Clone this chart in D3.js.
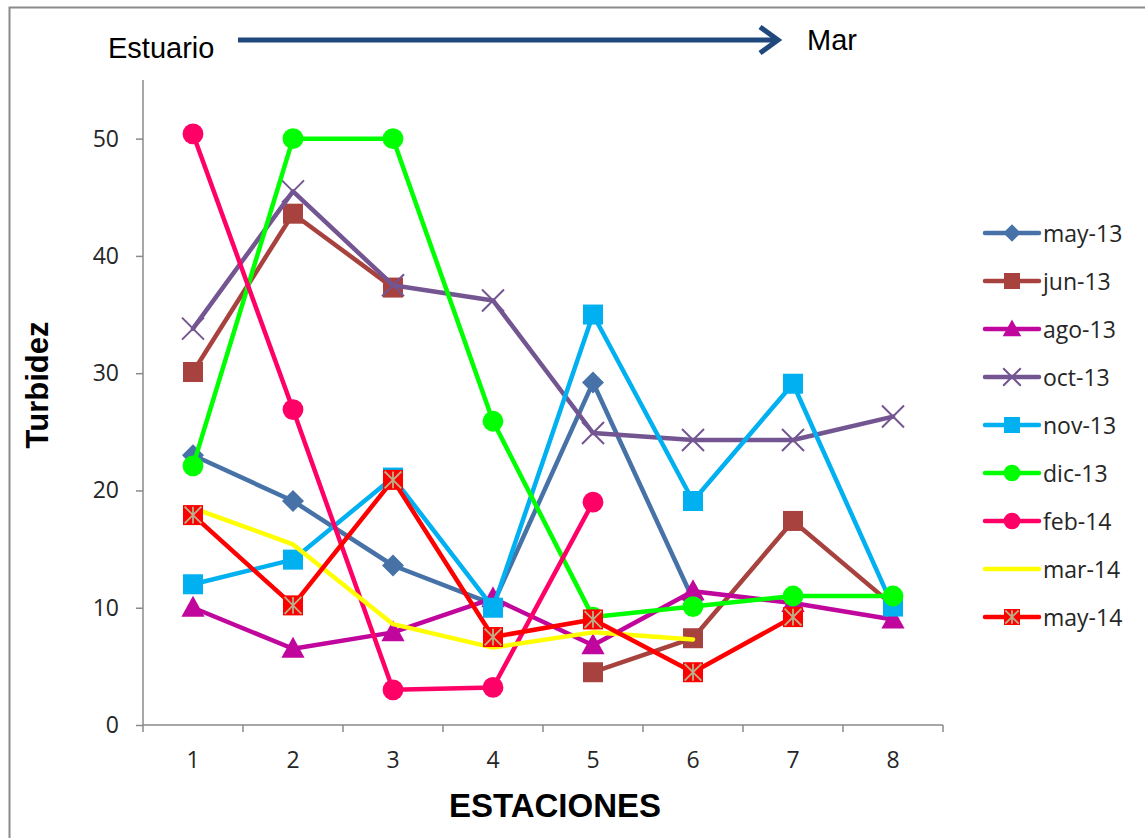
<!DOCTYPE html>
<html>
<head>
<meta charset="utf-8">
<script src="https://cdn.jsdelivr.net/npm/d3@7"></script>
<style>
  html, body { margin: 0; padding: 0; background: #fff; }
  svg { display: block; }
</style>
</head>
<body>
<svg id="chart" width="1145" height="838"></svg>
<script>
// Stations along the estuary-to-sea transect
const stations = ["1", "2", "3", "4", "5", "6", "7", "8"];
const yTicks = [0, 10, 20, 30, 40, 50];

// Turbidity per sampling campaign (null = no sample)
const may13 = [23.0, 19.1, 13.6, 10.3, 29.2, 10.7, null, null];
const jun13 = [30.1, 43.6, 37.3, null, 4.5, 7.4, 17.4, 10.2];
const ago13 = [10.0, 6.5, 7.9, 10.8, 6.8, 11.4, 10.4, 9.0];
const oct13 = [33.8, 45.5, 37.5, 36.2, 24.9, 24.3, 24.3, 26.3];
const nov13 = [12.0, 14.1, 21.1, 10.0, 35.0, 19.1, 29.1, 10.1];
const dic13 = [22.1, 50.0, 50.0, 25.9, 9.2, 10.1, 11.0, 11.0];
const feb14 = [50.4, 26.9, 3.0, 3.2, 19.0, null, null, null];
const mar14 = [18.5, 15.4, 8.6, 6.6, 7.9, 7.3, null, null];
const may14 = [17.9, 10.2, 20.9, 7.5, 9.0, 4.5, 9.2, null];

const seriesNames = ["may-13", "jun-13", "ago-13", "oct-13", "nov-13", "dic-13", "feb-14", "mar-14", "may-14"];
const seriesValues = [may13, jun13, ago13, oct13, nov13, dic13, feb14, mar14, may14];
const seriesColors = ["#4672A8", "#A8423F", "#C0069C", "#735592", "#00B0F0", "#00FF00", "#FF0066", "#FFFF00", "#FF0000"];
const seriesMarkers = ["diamond", "square", "triangle", "x", "square", "circle", "circle", "none", "squareStar"];

const sansFont = "'Liberation Sans', Arial, sans-serif";
const labelFont = "'Open Sans', 'Liberation Sans', sans-serif";

const svg = d3.select("#chart");

// Outer chart frame
svg.append("rect")
  .attr("x", 9.5).attr("y", 7.5)
  .attr("width", 1145).attr("height", 840)
  .attr("fill", "none").attr("stroke", "#8a8a8a").attr("stroke-width", 2);

const plot = { left: 143, right: 943, top: 80, bottom: 725 };

const x = d3.scaleBand().domain(stations).range([plot.left, plot.right]);
const y = d3.scaleLinear().domain([0, 55]).range([plot.bottom, plot.top]);

// Y axis
const yAxis = svg.append("g")
  .attr("transform", `translate(${plot.left},0)`)
  .call(d3.axisLeft(y).tickValues(yTicks).tickSize(7).tickPadding(17).tickFormat(d3.format("d")));
yAxis.select(".domain").attr("stroke", "#8a8a8a").attr("stroke-width", 1.5).attr("d", `M0,${plot.top}V${plot.bottom}`);
yAxis.selectAll(".tick line").attr("stroke", "#8a8a8a").attr("stroke-width", 1.5);
yAxis.selectAll(".tick text")
  .attr("font-family", labelFont).attr("font-size", 23).attr("fill", "#262626");

// X axis with ticks between categories
const xAxis = svg.append("g")
  .attr("transform", `translate(0,${plot.bottom})`);
xAxis.append("line")
  .attr("x1", plot.left).attr("x2", plot.right)
  .attr("stroke", "#8a8a8a").attr("stroke-width", 1.5);
const bounds = stations.map(s => x(s)).concat([plot.right]);
xAxis.selectAll(".btick").data(bounds).join("line")
  .attr("class", "btick")
  .attr("x1", d => d).attr("x2", d => d)
  .attr("y1", 0).attr("y2", 7)
  .attr("stroke", "#8a8a8a").attr("stroke-width", 1.5);
xAxis.selectAll(".xlab").data(stations).join("text")
  .attr("class", "xlab")
  .attr("x", d => x(d) + x.bandwidth() / 2)
  .attr("y", 43)
  .attr("text-anchor", "middle")
  .attr("font-family", labelFont).attr("font-size", 23).attr("fill", "#262626")
  .text(d => d);

// Axis titles
svg.append("text")
  .attr("x", 555).attr("y", 817)
  .attr("text-anchor", "middle")
  .attr("font-family", sansFont).attr("font-weight", "bold").attr("font-size", 33)
  .text("ESTACIONES");
svg.append("text")
  .attr("transform", "translate(48,385) rotate(-90)")
  .attr("text-anchor", "middle")
  .attr("font-family", sansFont).attr("font-weight", "bold").attr("font-size", 31)
  .text("Turbidez");

// Estuary -> sea direction arrow
svg.append("text")
  .attr("x", 108).attr("y", 58)
  .attr("font-family", sansFont).attr("font-size", 29)
  .text("Estuario");
svg.append("text")
  .attr("x", 807).attr("y", 50)
  .attr("font-family", sansFont).attr("font-size", 29)
  .text("Mar");
svg.append("line")
  .attr("x1", 238).attr("y1", 40).attr("x2", 778).attr("y2", 40)
  .attr("stroke", "#1F497D").attr("stroke-width", 5);
svg.append("path")
  .attr("d", "M760,27 L778,40 L760,53")
  .attr("fill", "none").attr("stroke", "#1F497D").attr("stroke-width", 5).attr("stroke-linejoin", "miter");

// Marker drawing
function drawMarker(g, type, color, size) {
  const s = size;
  if (type === "diamond") {
    g.append("path").attr("d", `M0,${-s * 0.55}L${s * 0.55},0L0,${s * 0.55}L${-s * 0.55},0Z`).attr("fill", color);
  } else if (type === "square") {
    g.append("rect").attr("x", -s / 2).attr("y", -s / 2).attr("width", s).attr("height", s).attr("fill", color);
  } else if (type === "triangle") {
    g.append("path").attr("d", `M0,${-s * 0.6}L${s * 0.58},${s * 0.45}L${-s * 0.58},${s * 0.45}Z`).attr("fill", color);
  } else if (type === "x") {
    const h = s * 0.55;
    g.append("path").attr("d", `M${-h},${-h}L${h},${h}M${-h},${h}L${h},${-h}`)
      .attr("stroke", color).attr("stroke-width", 2).attr("fill", "none");
  } else if (type === "circle") {
    g.append("circle").attr("r", s * 0.52).attr("fill", color);
  } else if (type === "squareStar") {
    g.append("rect").attr("x", -s / 2).attr("y", -s / 2).attr("width", s).attr("height", s).attr("fill", color);
    const h = s * 0.42;
    g.append("path").attr("d", `M0,${-h}L0,${h}M${-h},${-h}L${h},${h}M${-h},${h}L${h},${-h}`)
      .attr("stroke", "#B8B08A").attr("stroke-width", 1.8).attr("fill", "none");
  }
}

const cx = s => x(s) + x.bandwidth() / 2;
const line = d3.line()
  .defined(d => d.v !== null)
  .x(d => cx(d.s))
  .y(d => y(d.v));

seriesNames.forEach((name, i) => {
  const pts = stations.map((s, j) => ({ s, v: seriesValues[i][j] }));
  const g = svg.append("g").attr("class", "series");
  g.append("path")
    .attr("d", line(pts))
    .attr("fill", "none")
    .attr("stroke", seriesColors[i])
    .attr("stroke-width", 4.5)
    .attr("stroke-linejoin", "round")
    .attr("stroke-linecap", "round");
  pts.filter(d => d.v !== null).forEach(d => {
    const m = g.append("g").attr("transform", `translate(${cx(d.s)},${y(d.v)})`);
    drawMarker(m, seriesMarkers[i], seriesColors[i], 20);
  });
});

// Legend
const legend = svg.append("g").attr("transform", "translate(985,233)");
seriesNames.forEach((name, i) => {
  const item = legend.append("g").attr("transform", `translate(0,${i * 48})`);
  item.append("line").attr("x1", 0).attr("x2", 54).attr("y1", 0).attr("y2", 0)
    .attr("stroke", seriesColors[i]).attr("stroke-width", 4.5).attr("stroke-linecap", "round");
  const m = item.append("g").attr("transform", "translate(27,0)");
  drawMarker(m, seriesMarkers[i], seriesColors[i], 16);
  item.append("text").attr("x", 58).attr("y", 9)
    .attr("font-family", labelFont).attr("font-size", 23).attr("fill", "#262626")
    .text(name);
});
</script>
</body>
</html>
